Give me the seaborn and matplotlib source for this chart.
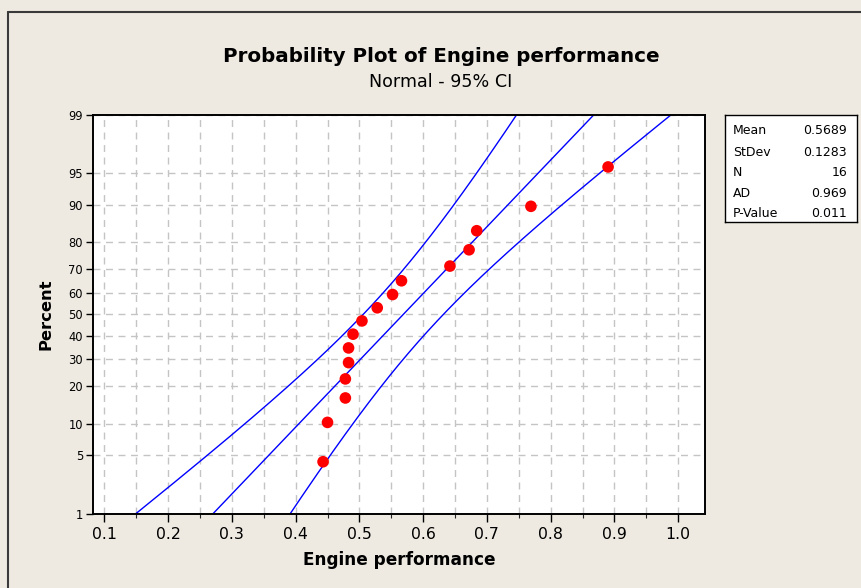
import numpy as np
import matplotlib
matplotlib.use("Agg")
import matplotlib.pyplot as plt
import seaborn as sns
from statistics import NormalDist
from matplotlib.lines import Line2D
from matplotlib.ticker import FixedLocator, MultipleLocator, NullLocator

performance = [0.443, 0.450, 0.478, 0.478, 0.483, 0.483, 0.490, 0.504,
               0.528, 0.552, 0.566, 0.642, 0.672, 0.684, 0.769, 0.890]
percent = [4.27, 10.37, 16.46, 22.56, 28.66, 34.76, 40.85, 46.95,
           53.05, 59.15, 65.24, 71.34, 77.44, 83.54, 89.63, 95.73]

# summary table
stat_names = ['Mean', 'StDev', 'N', 'AD', 'P-Value']
stat_values = ['0.5689', '0.1283', '16', '0.969', '0.011']
mean_val = 0.5689
sd_val = 0.1283
n_obs = 16

percent_ticks = [1, 5, 10, 20, 30, 40, 50, 60, 70, 80, 90, 95, 99]
x_ticks = [0.1, 0.2, 0.3, 0.4, 0.5, 0.6, 0.7, 0.8, 0.9, 1.0]

nd = NormalDist()
_ppf = np.vectorize(nd.inv_cdf, otypes=[float])
_cdf = np.vectorize(nd.cdf, otypes=[float])


# probit scale for the percent axis
def to_z(p):
    p = np.clip(np.asarray(p, dtype=float), 1e-6, 100 - 1e-6)
    return _ppf(p / 100.0)


def from_z(z):
    return _cdf(np.asarray(z, dtype=float)) * 100.0


# fitted normal line and 95% CI from the summary stats
pct_grid = np.linspace(0.2, 99.8, 400)
z_grid = to_z(pct_grid)
fit_line = mean_val + sd_val * z_grid
half_w = 1.96 * sd_val * np.sqrt((1 + z_grid ** 2 / 2) / n_obs)

sns.set_theme(style="white")
plt.rcParams['font.family'] = ['DejaVu Sans']
plt.rcParams['text.color'] = 'black'
plt.rcParams['axes.labelcolor'] = 'black'

W, H = 862, 588
bg = '#EEEAE1'
fig = plt.figure(figsize=(W / 100, H / 100), dpi=100, facecolor=bg)
ax = fig.add_axes([93.5 / W, 1 - 513.7 / H, (705 - 93.5) / W, (513.7 - 115) / H])
ax.set_facecolor('white')

for xs in [fit_line - half_w, fit_line, fit_line + half_w]:
    sns.lineplot(x=xs, y=pct_grid, sort=False, estimator=None,
                 color='#0000FF', linewidth=1.0, ax=ax)
sns.scatterplot(x=performance, y=percent, color='#FF0000', s=70,
                edgecolor='none', zorder=5, ax=ax)

ax.set_yscale('function', functions=(to_z, from_z))
ax.set_ylim(1, 99)
ax.set_xlim(0.083, 1.042)
ax.yaxis.set_major_locator(FixedLocator(percent_ticks))
ax.yaxis.set_minor_locator(NullLocator())
ax.set_yticklabels([str(p) for p in percent_ticks])
ax.xaxis.set_major_locator(FixedLocator(x_ticks))
ax.xaxis.set_minor_locator(MultipleLocator(0.05))
ax.set_xticklabels(['%.1f' % v for v in x_ticks])

grid_kw = dict(color='#C4C4C4', linestyle=(0, (5, 4)), linewidth=1.0)
ax.grid(True, which='both', axis='x', **grid_kw)
ax.grid(True, which='major', axis='y', **grid_kw)
ax.set_axisbelow(True)

for sp in ax.spines.values():
    sp.set_color('black')
    sp.set_linewidth(1.4)

ax.tick_params(axis='x', which='major', direction='out', length=6, width=1,
               labelsize=11.3, pad=3.5, colors='black', bottom=True)
ax.tick_params(axis='x', which='minor', direction='out', length=3, width=0.8,
               bottom=True)
ax.tick_params(axis='y', which='major', direction='out', length=5, width=1,
               labelsize=8.3, pad=2.5, colors='black', left=True)

ax.set_xlabel('Engine performance', fontsize=12.2, fontweight='bold')
ax.xaxis.set_label_coords(0.5, -0.094)
ax.set_ylabel('Percent', fontsize=11.8, fontweight='bold')
ax.yaxis.set_label_coords(-0.066, 0.5)

fig.text(441 / W, 1 - 62.3 / H, 'Probability Plot of Engine performance',
         ha='center', va='baseline', fontsize=14.3, fontweight='bold')
fig.text(441 / W, 1 - 86.7 / H, 'Normal - 95% CI',
         ha='center', va='baseline', fontsize=12.6)

# stats box
box = fig.add_axes([725 / W, 1 - 222 / H, 132 / W, 107 / H])
box.set_facecolor('white')
box.set_xticks([])
box.set_yticks([])
for sp in box.spines.values():
    sp.set_color('black')
    sp.set_linewidth(1.0)
row_y = [0.853, 0.654, 0.46, 0.271, 0.084]
for name, val, yy in zip(stat_names, stat_values, row_y):
    box.text(0.06, yy, name, ha='left', va='center', fontsize=9,
             transform=box.transAxes)
    box.text(0.925, yy, val, ha='right', va='center', fontsize=9,
             transform=box.transAxes)

# outer frame edges
fig.add_artist(Line2D([8 / W, 8 / W], [0, 1 - 12 / H], color='#3A3A3A',
                      linewidth=1.5, transform=fig.transFigure))
fig.add_artist(Line2D([8 / W, 1], [1 - 12 / H, 1 - 12 / H], color='#3A3A3A',
                      linewidth=1.5, transform=fig.transFigure))

fig.savefig('out.png', dpi=100, facecolor=bg)
